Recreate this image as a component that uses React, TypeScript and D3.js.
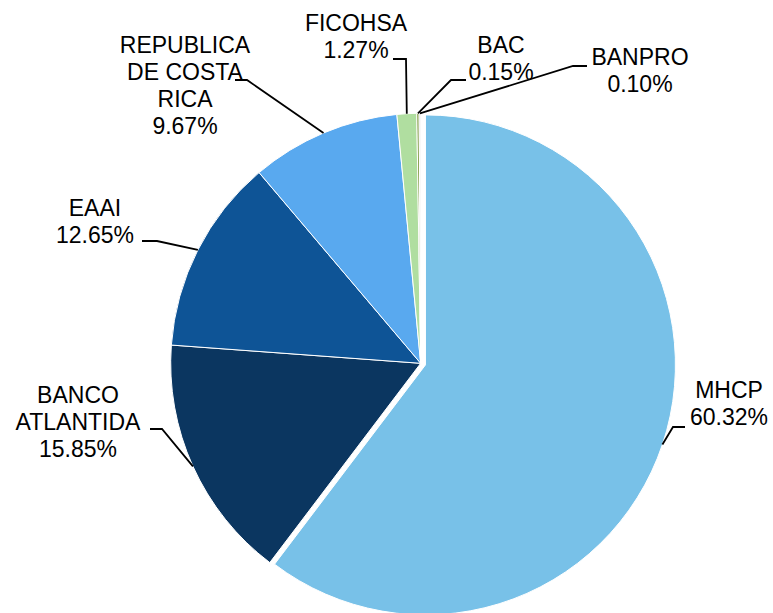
import React from 'react'
import * as d3 from 'd3'

// chart data
const categories = ['MHCP', 'BANCO ATLANTIDA', 'EAAI', 'REPUBLICA DE COSTA RICA', 'FICOHSA', 'BAC', 'BANPRO']
const labelLines = [['MHCP'], ['BANCO', 'ATLANTIDA'], ['EAAI'], ['REPUBLICA', 'DE COSTA', 'RICA'], ['FICOHSA'], ['BAC'], ['BANPRO']]
const shares = [60.32, 15.85, 12.65, 9.67, 1.27, 0.15, 0.1]
const colors = ['#78c1e8', '#0b3660', '#0e5496', '#59a9ef', '#b0dea0', '#7a963a', '#c8c8c8']

// where Excel put each label (center x, first baseline) and its leader elbow
const labelPos = [
  { x: 729, y: 398, from: [685, 427], elbow: [673, 427] },
  { x: 78, y: 403, from: [150, 429], elbow: [162, 429] },
  { x: 95, y: 216, from: [142, 241], elbow: [157, 241] },
  { x: 185, y: 53, from: [235, 80], elbow: [247, 80] },
  { x: 356, y: 31, from: [393, 59], elbow: [406, 59] },
  { x: 501, y: 53, from: [466, 80], elbow: [451, 80] },
  { x: 640, y: 65, from: [587, 66], elbow: [573, 66] }
]

const W = 773
const H = 613
const cx = 420.7
const cy = 363.3
const R = 250
const explode = 5
const lineH = 27

const App = () => {
  const data = categories.map((name, i) => ({ name, value: shares[i], i }))
  const pie = d3
    .pie<any>()
    .value((d) => d.value)
    .sort(null)
  const arcs = pie(data)
  const arc = d3.arc<any>().innerRadius(0).outerRadius(R)

  // offset of a slice (only MHCP is pulled out)
  const offset = (a: any) => {
    if (a.data.i !== 0) return [0, 0]
    const mid = (a.startAngle + a.endAngle) / 2
    return [Math.sin(mid) * explode, -Math.cos(mid) * explode]
  }

  return (
    <svg width={W} height={H} style={{ position: 'absolute', left: 0, top: 0 }}>
      <rect width={W} height={H} fill="#fff" />
      <g transform={`translate(${cx},${cy})`}>
        {arcs.map((a) => {
          const [ox, oy] = offset(a)
          return (
            <path
              key={a.data.name}
              d={arc(a) || ''}
              transform={`translate(${ox},${oy})`}
              fill={colors[a.data.i]}
              stroke="#fff"
              strokeWidth={1}
            />
          )
        })}
      </g>
      {arcs.map((a) => {
        const p = labelPos[a.data.i]
        const mid = (a.startAngle + a.endAngle) / 2
        const [ox, oy] = offset(a)
        const ex = cx + ox + Math.sin(mid) * R
        const ey = cy + oy - Math.cos(mid) * R
        const pts = [p.from, p.elbow, [ex, ey]]
        const lines = [...labelLines[a.data.i], `${a.data.value.toFixed(2)}%`]
        return (
          <g key={'l' + a.data.name}>
            <polyline
              points={pts.map((q) => q.join(',')).join(' ')}
              fill="none"
              stroke="#000"
              strokeWidth={1.8}
            />
            <text
              x={p.x}
              y={p.y}
              textAnchor="middle"
              fontFamily="'Liberation Sans', Arial, sans-serif"
              fontSize={23}
              fill="#000"
            >
              {lines.map((t, k) => (
                <tspan key={k} x={p.x} y={p.y + k * lineH}>
                  {t}
                </tspan>
              ))}
            </text>
          </g>
        )
      })}
    </svg>
  )
}

export default App
